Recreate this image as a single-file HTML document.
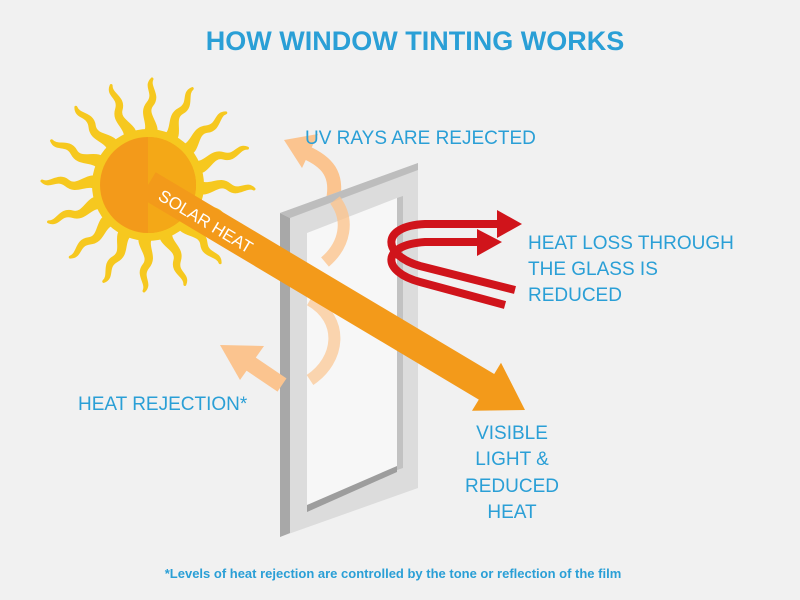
<!DOCTYPE html>
<html><head><style>
body{margin:0;width:800px;height:600px;background:#f1f1f1;overflow:hidden;font-family:"Liberation Sans",sans-serif}
svg{position:absolute;left:0;top:0}
.t{fill:#2a9fd6;font-family:"Liberation Sans",sans-serif}
</style></head><body>
<svg width="800" height="600" viewBox="0 0 800 600">
<defs>
<path id="ray" d="M-6,-48 C6,-60 -10,-70 0,-82 C8,-92 -4,-98 4,-106 C0,-98 12,-90 4,-80 C-4,-70 14,-60 6,-48 Z" fill="#f6c81f" stroke="#f6c81f" stroke-width="3" stroke-linejoin="round"/>
</defs>
<text class="t" x="415" y="50" text-anchor="middle" font-size="27" font-weight="bold">HOW WINDOW TINTING WORKS</text>
<g transform="translate(148,185)">
<use href="#ray"/><use href="#ray" transform="rotate(22.5)"/><use href="#ray" transform="rotate(45)"/><use href="#ray" transform="rotate(67.5)"/><use href="#ray" transform="rotate(90)"/><use href="#ray" transform="rotate(112.5)"/><use href="#ray" transform="rotate(135)"/><use href="#ray" transform="rotate(157.5)"/><use href="#ray" transform="rotate(180)"/><use href="#ray" transform="rotate(202.5)"/><use href="#ray" transform="rotate(225)"/><use href="#ray" transform="rotate(247.5)"/><use href="#ray" transform="rotate(270)"/><use href="#ray" transform="rotate(292.5)"/><use href="#ray" transform="rotate(315)"/><use href="#ray" transform="rotate(337.5)"/>
<circle r="56" fill="#f6c81f"/>
<circle r="48" fill="#f39a1a"/>
<path d="M0,-48 A48,48 0 0 1 0,48 Z" fill="#f4a817"/>
</g>
<!-- UV arrow -->
<path d="M333,200 C338,175 328,162 305,152" stroke="#fbc48f" stroke-width="14" fill="none"/>
<polygon points="284,140 318,134 302,168" fill="#fbc48f"/>
<!-- window frame -->
<polygon points="280,213 418,163 418,488 280,537" fill="#dcdcdc"/>
<polygon points="280,213 290,218 290,533 280,537" fill="#a8a8a8"/>
<polygon points="280,213 418,163 418,170 290,218" fill="#bdbdbd"/>
<polygon points="307,233 397,198 397,470 307,510" fill="#f7f7f7"/>
<polygon points="397,198 403,196 403,468 397,470" fill="#c2c2c2"/>
<polygon points="307,505 397,466 397,472 307,512" fill="#9d9d9d"/>
<!-- helix -->
<path d="M335,200 C350,220 345,245 325,262" stroke="#fbc48f" stroke-width="12" fill="none" opacity="0.8"/>
<path d="M310,300 C345,320 340,360 310,380" stroke="#fbc48f" stroke-width="12" fill="none" opacity="0.7"/>
<!-- heat rejection arrow -->
<path d="M282,385 L248,362" stroke="#fbc48f" stroke-width="16"/>
<polygon points="220,345 264,346 240,380" fill="#fbc48f"/>
<!-- solar heat arrow -->
<polygon points="155.7,172.2 494.2,374 501,362.7 525,410 472,410.8 478.8,399.6 140.3,197.8" fill="#f39a1a"/>
<text x="0" y="0" font-size="17" fill="#fff" font-family="Liberation Sans,sans-serif" transform="translate(157,199) rotate(31)">SOLAR HEAT</text>
<!-- red spirals -->
<g fill="none" stroke="#d0141b" stroke-width="8">
<path d="M500,224 L425,224 C380,226 382,255 420,266 L515,290"/>
<path d="M480,242 L425,242 C380,245 382,272 420,282 L505,305"/>
</g>
<polygon points="497,210 522,224 497,238" fill="#d0141b"/>
<polygon points="477,229 502,242 477,256" fill="#d0141b"/>
<text class="t" x="305" y="144" font-size="19">UV RAYS ARE REJECTED</text>
<text class="t" font-size="19"><tspan x="528" y="249">HEAT LOSS THROUGH</tspan><tspan x="528" y="275">THE GLASS IS</tspan><tspan x="528" y="301">REDUCED</tspan></text>
<text class="t" x="78" y="410" font-size="19">HEAT REJECTION*</text>
<text class="t" font-size="19" text-anchor="middle"><tspan x="512" y="439">VISIBLE</tspan><tspan x="512" y="465">LIGHT &amp;</tspan><tspan x="512" y="492">REDUCED</tspan><tspan x="512" y="518">HEAT</tspan></text>
<text class="t" x="393" y="578" text-anchor="middle" font-size="13" font-weight="bold">*Levels of heat rejection are controlled by the tone or reflection of the film</text>
</svg>
</body></html>
